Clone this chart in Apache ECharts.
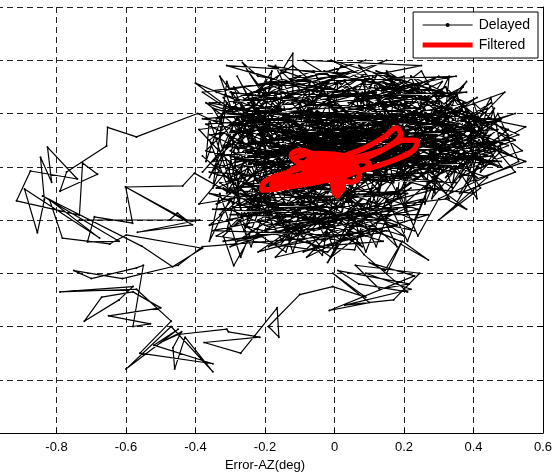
<!DOCTYPE html>
<html>
<head>
<meta charset="utf-8">
<script src="https://cdn.jsdelivr.net/npm/echarts@6/dist/echarts.min.js"></script>
<style>
  html, body { margin: 0; padding: 0; background: #fff; }
  #chart { width: 555px; height: 473px; }
</style>
</head>
<body>
<div id="chart"></div>
<script>
const seriesNames = ['Delayed', 'Filtered'];
const xAxisName = 'Error-AZ(deg)';
const xRange = [-1.0, 0.6];
const yRange = [-0.4, 0.4];

// Delayed track (x, y in deg)
const delayedCore1 = [
  [0.02,0.12],[-0.12,0.16],[0.10,0.08],[-0.05,0.20],[0.18,0.14],[-0.20,0.10],[0.05,0.22],[0.25,0.12],
  [-0.08,0.06],[0.12,0.18],[-0.25,0.14],[0.00,0.03],[0.30,0.17],[0.08,0.24],[-0.15,0.05],[0.20,0.09],
  [-0.02,0.17],[-0.30,0.08],[-0.10,0.21],[0.15,0.04],[0.35,0.13],[0.05,0.16],[-0.18,0.19],[0.22,0.22],
  [0.00,0.08],[-0.26,0.03],[-0.05,0.12],[0.28,0.06],[0.10,0.20],[-0.12,0.01],[0.16,0.13],[0.40,0.18],
  [0.18,0.10],[-0.08,0.25],[0.06,0.05],[-0.22,0.16],[0.12,0.27],[0.02,0.15],[0.33,0.21],[-0.16,0.12]
];
const delayedTop = [
  [-0.28,0.23],[-0.06,0.28],[0.02,0.18],[-0.20,0.26],[0.10,0.23],[-0.34,0.19],[-0.12,0.29],[0.06,0.19],
  [0.20,0.26],[-0.02,0.22],[0.26,0.24],[0.08,0.13],[0.32,0.25],[0.14,0.19],[0.38,0.22],[0.22,0.27],
  [0.42,0.16],[0.24,0.20]
];
const delayedRight = [
  [0.46,0.19],[0.30,0.10],[0.52,0.15],[0.36,0.20],[0.55,0.175],[0.40,0.12],[0.28,0.19],[0.49,0.24],
  [0.34,0.14],[0.47,0.10],[0.26,0.15],[0.44,0.21],[0.38,0.07],[0.55,0.11],[0.34,0.16],[0.20,0.07],
  [0.42,0.13],[0.32,0.04],[0.38,0.02],[0.18,0.12],[0.45,0.16],[0.32,0.05],[0.24,0.11],[-0.20,0.14]
];
const delayedLeft = [
  [-0.394,0.20],[-0.57,0.156],[-0.653,0.174],[-0.656,0.139],[-0.771,0.09],[-0.79,0.054],[-0.682,0.086],
  [-0.725,0.107],[-0.734,0.009],[-0.915,0.036],[-0.875,0.092],[-0.74,0.077],[-0.826,0.137],[-0.814,0.071],
  [-0.846,0.118],[-0.835,0.038],[-0.855,-0.024],[-0.892,0.058],[-0.676,-0.034],[-0.82,0.038],[-0.783,-0.034],
  [-0.647,-0.045],[-0.599,-0.028],[-0.38,-0.053],[-0.466,-0.088],[-0.555,-0.049],[-0.84,0.045],[-0.62,-0.04],
  [-0.711,-0.041],[-0.691,0.006],[-0.581,-0.006],[-0.601,0.062],[-0.409,-0.009],[-0.567,-0.023],[-0.388,0.0],
  [-0.734,0.0],[-0.475,0.0],[-0.452,0.013],[-0.426,0.0],[-0.601,0.062],[-0.437,0.064],[-0.403,0.088],[-0.30,0.05]
];
const delayedTopLeft = [
  [-0.36,0.15],[-0.18,0.24],[-0.38,0.09],[-0.20,0.22],[-0.04,0.25],[-0.30,0.20],[-0.10,0.27],[-0.34,0.24],
  [-0.14,0.20],[0.00,0.27],[-0.26,0.25],[-0.08,0.17],[-0.40,0.257],[-0.24,0.18],[-0.38,0.24],[-0.16,0.26],
  [0.04,0.24],[-0.22,0.27],[-0.265,0.296],[-0.20,0.23],[-0.12,0.313],[-0.12,0.22],[-0.17,0.29],[-0.06,0.22],
  [0.02,0.29],[-0.10,0.19],[0.08,0.27],[-0.28,0.15]
];
const delayedCore2 = [
  [-0.24,0.12],[0.06,0.15],[-0.14,0.08],[0.22,0.18],[-0.02,0.10],[-0.28,0.17],[0.12,0.11],[-0.10,0.14],
  [0.30,0.09],[0.04,0.19],[-0.18,0.06],[0.16,0.16],[-0.06,0.07],[0.36,0.16],[0.10,0.05],[-0.22,0.20],
  [0.00,0.13],[0.24,0.15],[-0.12,0.18],[0.14,0.09],[-0.32,0.14],[-0.04,0.16],[0.20,0.12],[-0.16,0.09],
  [0.08,0.21],[-0.26,0.10],[0.28,0.14],[-0.08,0.11],[0.18,0.20],[-0.02,0.05],[-0.20,0.17],[0.06,0.09],
  [0.32,0.19],[-0.10,0.04],[0.12,0.15],[-0.30,0.18],[0.02,0.20],[0.26,0.10],[-0.14,0.13],[0.10,0.17]
];
const delayedLowCluster = [
  [-0.30,0.02],[-0.10,-0.04],[0.05,0.06],[-0.22,-0.06],[0.12,0.00],[-0.05,0.09],[0.20,-0.03],[-0.15,0.04],
  [-0.34,-0.03],[-0.02,-0.06],[0.16,0.05],[-0.26,0.07],[0.08,-0.05],[-0.12,0.10],[0.24,0.02],[-0.06,-0.02],
  [-0.36,0.05],[0.02,0.01],[-0.20,-0.02],[0.14,0.08],[-0.08,-0.07],[0.26,0.04],[-0.28,-0.04],[0.04,0.10],
  [-0.16,-0.05],[0.10,-0.02],[-0.04,0.04],[-0.32,0.10],[0.18,-0.01],[0.00,-0.03]
];
const delayedLowLeft = [
  [-0.38,-0.05],[-0.45,-0.085],[-0.61,-0.11],[-0.75,-0.095],[-0.70,-0.11],[-0.57,-0.09],[-0.55,-0.085],
  [-0.58,-0.20],[-0.53,-0.195],[-0.65,-0.18],[-0.50,-0.165],[-0.58,-0.135],[-0.67,-0.145],[-0.72,-0.19],
  [-0.62,-0.15],[-0.58,-0.125],[-0.79,-0.135],[-0.57,-0.13],[-0.47,-0.19],[-0.56,-0.25],[-0.35,-0.27],
  [-0.52,-0.235],[-0.45,-0.205],[-0.60,-0.28],[-0.47,-0.20],[-0.35,-0.285],[-0.43,-0.22],[-0.46,-0.28],
  [-0.465,-0.24],[-0.44,-0.21],[-0.50,-0.23],[-0.45,-0.215],[-0.31,-0.205],[-0.305,-0.21],[-0.215,-0.22],
  [-0.375,-0.23],[-0.27,-0.25],[-0.165,-0.165],[-0.16,-0.22],[-0.19,-0.20],[-0.10,-0.14]
];
const delayedLowRight = [
  [-0.005,-0.125],[0.09,-0.145],[-0.005,-0.10],[0.10,-0.155],[-0.015,-0.17],[0.23,-0.105],[0.10,-0.08],
  [0.145,-0.095],[0.19,-0.045],[0.27,-0.075],[0.195,-0.04],[0.15,-0.10],[0.09,-0.10],[0.22,-0.13],
  [0.03,-0.16],[0.17,-0.15],[0.245,-0.10],[0.06,-0.085],[0.13,-0.13],[0.215,-0.12],[0.01,-0.095],
  [0.07,-0.12],[0.21,-0.135],[0.085,-0.065],[0.03,-0.02]
];
const delayedMidLeft = [
  [-0.24,0.04],[-0.38,0.12],[-0.18,0.01],[-0.32,0.06],[-0.06,0.00],[-0.30,-0.05],[-0.12,0.03],[-0.36,-0.01],
  [-0.20,0.08],[-0.04,-0.05],[-0.26,-0.01],[-0.14,-0.06],[-0.08,0.05],[-0.22,0.00],[0.02,-0.04],[-0.16,0.07],
  [-0.32,-0.03],[-0.29,-0.086],[-0.25,-0.04],[-0.30,0.12],[-0.10,0.08],[-0.34,0.03],[-0.18,0.11],[0.00,0.06],
  [-0.035,-0.066],[-0.28,0.09],[-0.12,-0.02],[0.06,0.02],[-0.02,-0.08],[0.10,0.04],[0.058,-0.056],[-0.06,-0.05],
  [0.14,-0.04],[0.04,-0.02],[0.22,0.06],[0.08,0.01],[0.18,-0.05]
];
const delayedCore3 = [
  [0.04,0.14],[-0.16,0.16],[0.14,0.12],[-0.06,0.18],[0.22,0.10],[-0.24,0.15],[0.02,0.09],[0.18,0.19],
  [-0.10,0.12],[0.30,0.15],[0.08,0.11],[-0.20,0.13],[0.16,0.07],[-0.02,0.19],[0.26,0.18],[-0.12,0.07],
  [0.10,0.14],[-0.28,0.11],[0.06,0.17],[0.20,0.21],[-0.04,0.11],[0.12,0.22],[-0.14,0.15],[0.24,0.08],
  [0.00,0.16],[-0.22,0.09],[0.16,0.18],[-0.08,0.15],[0.34,0.18],[0.08,0.07]
];
const delayedMidRight = [
  [0.22,0.14],[0.40,0.20],[0.16,0.23],[0.34,0.11],[0.14,0.26],[0.44,0.18],[0.28,0.08],[0.50,0.14],
  [0.26,0.20],[0.38,0.15],[0.12,0.07],[0.36,0.24],[0.20,0.16],[0.42,0.11],[0.24,0.25],[0.30,0.13],
  [0.48,0.19],[0.18,0.05],[0.40,0.16],[0.22,0.09],[0.46,0.13],[0.32,0.22],[0.38,0.26],[0.28,0.17],
  [0.22,0.27],[0.34,0.06],[0.16,0.14],[0.44,0.08],[0.30,0.00],[0.40,0.05],[0.26,0.06],[0.36,0.12],
  [0.20,0.03],[0.33,0.04],[0.24,0.13]
];
const delayedTopMid = [
  [0.10,0.25],[0.28,0.22],[0.06,0.27],[0.18,0.24],[0.30,0.27],[0.14,0.21],[0.26,0.26],[0.04,0.22],
  [0.22,0.24],[0.12,0.28],[0.34,0.23],[0.16,0.25],[0.00,0.24],[0.20,0.27],[0.08,0.23],[0.24,0.21]
];
const delayedLeftBand = [
  [-0.37,0.18],[-0.15,0.11],[-0.33,0.27],[-0.21,0.05],[-0.39,0.03],[-0.12,0.24],[-0.30,0.13],[-0.05,0.06],
  [-0.27,0.21],[-0.36,0.08],[-0.18,0.28],[-0.25,0.00],[-0.09,0.16],[-0.35,0.21],[-0.13,-0.03],[-0.29,0.25],
  [-0.07,0.09],[-0.37,0.13],[-0.23,0.22],[-0.11,0.05],[-0.31,0.16],[-0.02,0.26],[-0.26,-0.02],[-0.15,0.19],
  [-0.39,0.17],[-0.19,0.03],[-0.06,0.23],[-0.33,0.01],[-0.17,0.14],[-0.28,0.27],[-0.08,0.02],[-0.24,0.19],
  [-0.37,0.22],[-0.13,0.10],[-0.31,-0.02],[-0.21,0.25],[-0.04,0.13],[-0.35,0.11],[-0.16,0.22],[-0.27,0.06]
];
const delayedUpperRight = [
  [0.03,0.26],[0.21,0.15],[-0.03,0.28],[0.27,0.23],[0.11,0.10],[0.37,0.19],[0.07,0.29],[0.23,0.17],
  [0.41,0.23],[0.15,0.11],[0.31,0.26],[0.05,0.18],[0.29,0.12],[0.13,0.25],[0.43,0.14],[0.19,0.22],
  [0.35,0.09],[0.09,0.20],[0.25,0.28],[0.39,0.11],[0.17,0.16],[0.47,0.17],[0.27,0.07],[0.11,0.24],
  [0.33,0.17],[0.51,0.12],[0.29,0.21],[0.19,0.08],[0.45,0.22],[0.23,0.13],[0.37,0.25],[0.13,0.17],
  [0.31,0.11],[0.53,0.16],[0.35,0.21],[0.21,0.11],[0.41,0.08],[0.25,0.17],[0.15,0.28],[0.39,0.18]
];
const delayedLowBand = [
  [-0.33,0.07],[-0.11,-0.03],[0.07,0.05],[-0.19,-0.05],[0.13,0.03],[-0.07,0.07],[0.23,-0.02],[-0.27,0.05],
  [-0.01,-0.07],[0.17,0.02],[-0.23,-0.03],[0.05,0.08],[-0.15,0.01],[0.27,0.01],[-0.09,-0.06],[0.11,0.06],
  [-0.31,0.00],[0.01,0.04],[-0.21,0.07],[0.19,-0.04],[-0.05,0.02],[-0.35,-0.02],[0.09,-0.03],[-0.13,0.06],
  [0.21,0.05],[-0.03,-0.04],[-0.25,0.02],[0.15,-0.02],[-0.17,-0.07],[0.03,0.07]
];
const delayedCore4 = [
  [-0.19,0.15],[0.09,0.12],[-0.07,0.20],[0.19,0.10],[-0.23,0.11],[0.03,0.17],[0.27,0.16],[-0.13,0.09],
  [0.13,0.20],[-0.03,0.14],[0.31,0.18],[-0.17,0.21],[0.07,0.08],[0.21,0.19],[-0.27,0.14],[-0.01,0.11],
  [0.17,0.14],[-0.11,0.17],[0.35,0.15],[0.01,0.21],[-0.21,0.08],[0.11,0.16],[-0.09,0.10],[0.25,0.11],
  [-0.15,0.17],[0.05,0.13],[0.29,0.20],[-0.25,0.19],[0.15,0.08],[-0.05,0.15],[0.23,0.14],[-0.29,0.10],
  [0.09,0.19],[-0.13,0.12],[0.19,0.17],[-0.01,0.08],[0.33,0.13],[-0.19,0.18],[0.07,0.11],[-0.07,0.13]
];
const delayedTopBand = [
  [-0.25,0.28],[-0.05,0.24],[0.15,0.30],[-0.15,0.23],[0.05,0.28],[-0.29,0.22],[0.25,0.29],[-0.09,0.30],
  [0.11,0.22],[-0.19,0.29],[0.31,0.24],[-0.01,0.30],[0.21,0.23],[-0.23,0.24],[0.09,0.30],[-0.11,0.26],
  [0.35,0.27],[0.01,0.23],[-0.31,0.29],[0.17,0.27]
];
const delayedRightEdge = [
  [0.36,0.17],[0.52,0.20],[0.30,0.15],[0.48,0.10],[0.34,0.23],[0.54,0.13],[0.40,0.10],[0.46,0.21],
  [0.32,0.08],[0.50,0.17],[0.42,0.19],[0.28,0.11],[0.44,0.12],[0.38,0.20],[0.52,0.09],[0.36,0.05],
  [0.46,0.15],[0.34,0.02],[0.42,0.06],[0.30,0.19]
];
const delayedSweep1 = [
  [-0.34,0.10],[-0.29,0.16],[-0.31,0.05],[-0.24,0.13],[-0.27,0.20],[-0.20,0.12],[-0.23,0.04],[-0.16,0.10],
  [-0.19,0.19],[-0.12,0.14],[-0.15,0.02],[-0.08,0.08],[-0.10,0.22],[-0.04,0.15],[-0.06,0.03],[0.00,0.10],
  [-0.02,0.24],[0.04,0.12],[0.02,0.01],[0.08,0.15],[0.06,0.25],[0.12,0.13],[0.10,0.02],[0.16,0.11],
  [0.14,0.22],[0.20,0.15],[0.18,0.04],[0.24,0.13],[0.22,0.25],[0.28,0.16],[0.26,0.03],[0.32,0.12],
  [0.30,0.23],[0.36,0.14],[0.34,0.07],[0.40,0.13],[0.38,0.21],[0.44,0.15],[0.42,0.09],[0.48,0.13],
  [0.45,0.23],[0.39,0.16],[0.41,0.04],[0.35,0.10],[0.37,0.19],[0.31,0.14],[0.33,0.27],[0.27,0.19],
  [0.29,0.05],[0.23,0.11],[0.25,0.22],[0.19,0.13],[0.21,0.01],[0.15,0.09],[0.17,0.24],[0.11,0.18],
  [0.13,0.05],[0.07,0.10],[0.09,0.27],[0.03,0.19],[0.05,0.03],[-0.01,0.13],[0.01,0.26],[-0.05,0.18],
  [-0.03,0.06],[-0.09,0.12],[-0.07,0.26],[-0.13,0.17],[-0.11,0.07],[-0.17,0.13],[-0.15,0.26],[-0.21,0.18],
  [-0.19,0.06],[-0.25,0.09],[-0.23,0.21],[-0.29,0.13],[-0.27,0.02],[-0.33,0.15],[-0.31,0.22],[-0.37,0.11]
];
const delayedSweep2 = [
  [-0.36,0.19],[-0.30,0.07],[-0.26,0.17],[-0.32,0.23],[-0.22,0.14],[-0.28,0.06],[-0.18,0.09],[-0.24,0.24],
  [-0.14,0.16],[-0.20,0.04],[-0.10,0.10],[-0.16,0.25],[-0.06,0.17],[-0.12,0.05],[-0.02,0.14],[-0.08,0.23],
  [0.02,0.07],[-0.04,0.19],[0.06,0.12],[0.00,0.22],[0.10,0.16],[0.04,0.04],[0.14,0.14],[0.08,0.26],
  [0.18,0.18],[0.12,0.03],[0.22,0.12],[0.16,0.27],[0.26,0.16],[0.20,0.06],[0.30,0.11],[0.24,0.24],
  [0.34,0.19],[0.28,0.04],[0.38,0.12],[0.32,0.25],[0.42,0.18],[0.36,0.08],[0.46,0.11],[0.40,0.22],
  [0.50,0.16],[0.43,0.10],[0.37,0.22],[0.31,0.09],[0.25,0.19],[0.19,0.10],[0.13,0.23],[0.07,0.14],
  [0.01,0.05],[-0.05,0.21],[-0.11,0.11],[-0.17,0.24],[-0.23,0.10],[-0.29,0.18],[-0.35,0.06],[-0.31,0.26],
  [-0.25,0.16],[-0.19,0.02],[-0.13,0.20],[-0.07,0.04],[-0.01,0.18],[0.05,0.09],[0.11,0.27],[0.17,0.07],
  [0.23,0.20],[0.29,0.10],[0.35,0.24],[0.41,0.13],[0.47,0.20],[0.53,0.11]
];
const delayedLowSweep = [
  [0.30,0.04],[0.24,-0.03],[0.18,0.06],[0.12,-0.05],[0.06,0.03],[0.00,-0.06],[-0.06,0.05],[-0.12,-0.06],
  [-0.18,0.05],[-0.24,-0.05],[-0.30,0.04],[-0.36,-0.04],[-0.33,0.05],[-0.27,-0.07],[-0.21,0.03],[-0.15,-0.04],
  [-0.09,0.06],[-0.03,-0.03],[0.03,0.05],[0.09,-0.06],[0.15,0.04],[0.21,-0.04],[0.27,0.06],[0.23,0.00]
];
const delayedStreaks = [
  [-0.36,0.16],[0.10,0.19],[-0.30,0.21],[0.20,0.17],[-0.34,0.12],[0.05,0.14],[-0.28,0.18],[0.30,0.20],
  [-0.20,0.15],[0.40,0.17],[-0.10,0.20],[0.45,0.19],[-0.05,0.16],[-0.38,0.19],[0.15,0.22],[-0.25,0.17],
  [0.35,0.15],[-0.15,0.13],[0.25,0.16],[-0.32,0.20],[0.00,0.18],[-0.36,0.22],[0.12,0.24],[-0.22,0.21],
  [0.28,0.18],[-0.12,0.23],[0.38,0.24],[0.02,0.21],[-0.30,0.24],[0.22,0.20],
  [-0.34,0.06],[0.10,0.03],[-0.30,0.01],[0.15,0.00],[-0.25,0.04],[0.20,0.05],[-0.35,0.02],[0.05,0.01],
  [-0.20,-0.01],[0.25,0.03],[-0.32,-0.04],[0.00,-0.01],[-0.28,0.03],[0.18,0.02],[-0.15,-0.02],[0.30,0.06],
  [-0.10,0.04],[-0.36,0.09],[0.08,0.07],[-0.22,0.06],[0.28,0.09],[-0.05,0.08],[0.35,0.07],[-0.18,0.10],
  [0.22,0.08],[-0.30,0.06],[0.45,0.12],[0.00,0.11],[0.50,0.15],[0.10,0.13],[0.48,0.11],[0.15,0.10],
  [0.42,0.14],[-0.05,0.12],[0.38,0.10],[-0.15,0.11],[0.30,0.12],[-0.25,0.13],[0.20,0.11]
];

// Filtered track (thick red loops near the centre)
const filtered = [
  [-0.014,0.103],[-0.10,0.131],[-0.124,0.122],[-0.095,0.107],[-0.014,0.113],[0.072,0.131],[0.144,0.156],
  [0.178,0.173],[0.19,0.161],[0.153,0.137],[0.078,0.113],[0.009,0.094],[-0.072,0.075],[-0.153,0.06],
  [-0.21,0.056],[-0.199,0.073],[-0.13,0.09],[-0.043,0.107],[0.049,0.116],[0.135,0.131],[0.201,0.15],
  [0.239,0.148],[0.227,0.131],[0.173,0.113],[0.106,0.098],[0.043,0.088],[0.014,0.075],[0.009,0.045],
  [-0.009,0.075],[-0.078,0.068],[-0.153,0.062],[-0.181,0.066],[-0.106,0.083],[-0.014,0.094],[0.061,0.101],
  [0.037,0.109],[-0.037,0.098],[-0.086,0.094],[-0.049,0.116],[0.029,0.116],[0.072,0.083],[0.049,0.071],
  [-0.01,0.09],[-0.08,0.11],[-0.03,0.12],[0.05,0.10],[0.02,0.085],[-0.06,0.09],[-0.11,0.115],[-0.05,0.125],
  [0.03,0.12],[0.06,0.095],[-0.02,0.08],[-0.09,0.085],[-0.04,0.105],[0.01,0.10],[0.05,0.115],[0.10,0.105],
  [0.06,0.09],[-0.02,0.095],[-0.10,0.10],[-0.16,0.07],[-0.12,0.075],[-0.05,0.085],[0.02,0.105],[0.025,0.06],
  [0.0,0.05],[-0.005,0.08]
];

const delayed = [].concat(
  delayedCore1, delayedTop, delayedRight, delayedLeft, delayedTopLeft, delayedCore2,
  delayedLowCluster, delayedLowLeft, delayedLowRight, delayedMidLeft, delayedCore3,
  delayedMidRight, delayedTopMid, delayedLeftBand, delayedUpperRight, delayedLowBand,
  delayedCore4, delayedTopBand, delayedRightEdge, delayedSweep1, delayedSweep2, delayedLowSweep,
  delayedStreaks
);

const chart = echarts.init(document.getElementById('chart'));

const gridDash = { color: '#222', width: 1, type: [6, 4] };
const font = 'Liberation Sans, Arial, sans-serif';

chart.setOption({
  animation: false,
  backgroundColor: '#fff',
  grid: { left: -13, right: 12, top: 7, bottom: 40, outerBoundsMode: 'none', containLabel: false },
  legend: {
    orient: 'vertical',
    right: 17,
    top: 12,
    padding: [6, 8, 6, 7],
    itemGap: 6,
    itemWidth: 50,
    itemHeight: 5,
    backgroundColor: '#fff',
    borderColor: '#000',
    borderWidth: 1,
    borderRadius: 0,
    textStyle: { color: '#000', fontSize: 14, fontFamily: font, padding: [0, 0, 0, 1] },
    data: [
      { name: seriesNames[0], lineStyle: { width: 1 } },
      { name: seriesNames[1], lineStyle: { width: 5 }, itemStyle: { color: 'rgba(0,0,0,0)', borderWidth: 0, opacity: 0 } }
    ]
  },
  xAxis: {
    type: 'value',
    min: xRange[0],
    max: xRange[1],
    interval: 0.2,
    name: xAxisName,
    nameLocation: 'middle',
    nameGap: 26,
    nameTextStyle: { color: '#000', fontSize: 13, fontFamily: font },
    axisLine: { show: true, onZero: false, lineStyle: { color: '#000', width: 1 } },
    axisTick: { show: true, inside: true, length: 5, lineStyle: { color: '#000' } },
    axisLabel: {
      color: '#000', fontSize: 13, fontFamily: font, margin: 8,
      formatter: v => (Math.abs(v) < 1e-9 ? '0' : String(+v.toFixed(1)))
    },
    splitLine: { show: true, lineStyle: gridDash }
  },
  yAxis: [{
    type: 'value',
    min: yRange[0],
    max: yRange[1],
    interval: 0.1,
    axisLine: { show: false },
    axisTick: { show: false },
    axisLabel: { show: false },
    splitLine: { show: true, lineStyle: gridDash }
  }, {
    type: 'value',
    position: 'right',
    min: yRange[0],
    max: yRange[1],
    interval: 0.1,
    axisLine: { show: true, onZero: false, lineStyle: { color: '#000', width: 1 } },
    axisTick: { show: true, inside: true, length: 5, lineStyle: { color: '#000' } },
    axisLabel: { show: false },
    splitLine: { show: false }
  }],
  series: [{
    name: seriesNames[0],
    type: 'line',
    data: delayed,
    symbol: 'circle',
    symbolSize: 2,
    showSymbol: true,
    itemStyle: { color: '#000' },
    lineStyle: { color: '#000', width: 1.2 },
    emphasis: { disabled: true },
    z: 2
  }, {
    name: seriesNames[1],
    type: 'line',
    data: filtered,
    smooth: 0.4,
    symbol: 'none',
    itemStyle: { color: '#ff0000' },
    lineStyle: { color: '#ff0000', width: 5.5 },
    emphasis: { disabled: true },
    z: 3
  }]
});
</script>
</body>
</html>
